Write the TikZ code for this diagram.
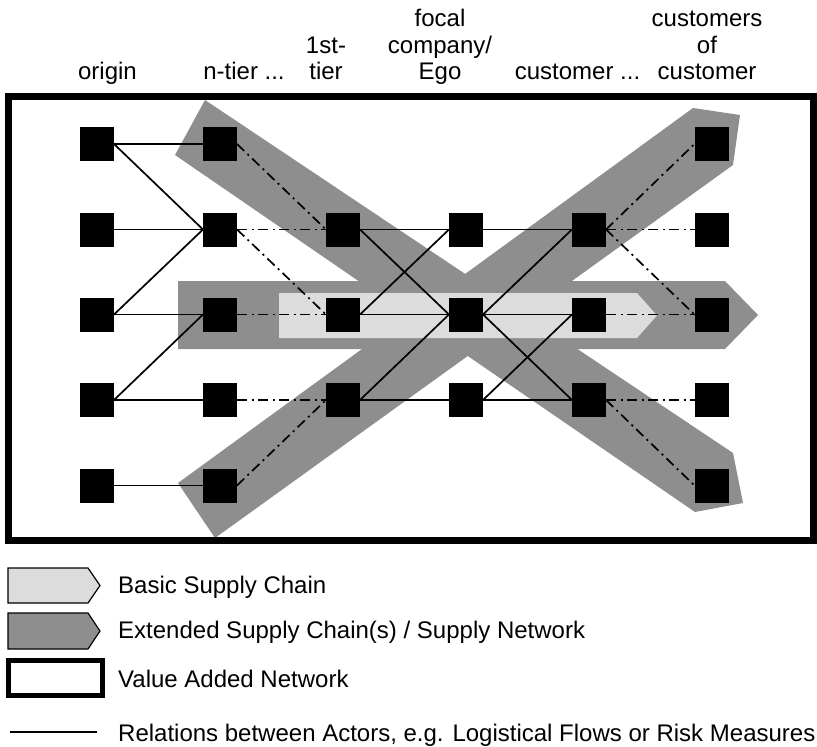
\documentclass[tikz,border=0pt]{standalone}
\usepackage{fontspec}
\setmainfont{Liberation Sans}
\definecolor{extgray}{HTML}{8E8E8E}
\definecolor{basgray}{HTML}{DCDCDC}
\begin{document}
\begin{tikzpicture}[x=1pt,y=-1pt,
  actor/.style={fill=black,draw=none,minimum size=34pt,inner sep=0pt,outer sep=0pt},
  rel/.style={line width=1.7pt,black},
  rdd/.style={line width=1.7pt,black,dash pattern=on 10pt off 4.5pt on 2pt off 4.5pt},
  lbl/.style={font=\fontsize{24}{26.5}\selectfont,inner sep=0pt,align=center,anchor=south,text depth=0pt},
  leg/.style={font=\fontsize{24}{26.5}\selectfont,inner sep=0pt,anchor=base west},
  ext/.style={fill=extgray,draw=none},
  bas/.style={fill=basgray,draw=none}]
\useasboundingbox (0,0) rectangle (817,747);

% extended supply chains (dark grey bands)
\path[ext] (205,100) -- (733,453) -- (743,503) -- (695,512) -- (175,155) -- cycle;
\path[ext] (178,483) -- (693,108) -- (740,115) -- (733,165) -- (215,538) -- cycle;
\path[ext] (178,281) -- (725,281) -- (758,315) -- (725,349) -- (178,349) -- cycle;
% basic supply chain
\path[bas] (279,293) -- (637,293) -- (657,315.5) -- (637,338) -- (279,338) -- cycle;

% actors
\node[actor] (o1) at (97,144) {};
\node[actor] (o2) at (97,229.5) {};
\node[actor] (o3) at (97,314.5) {};
\node[actor] (o4) at (97,400) {};
\node[actor] (o5) at (97,485.5) {};
\node[actor] (n1) at (220,144) {};
\node[actor] (n2) at (220,229.5) {};
\node[actor] (n3) at (220,314.5) {};
\node[actor] (n4) at (220,400) {};
\node[actor] (n5) at (220,485.5) {};
\node[actor] (t2) at (343,229.5) {};
\node[actor] (t3) at (343,314.5) {};
\node[actor] (t4) at (343,400) {};
\node[actor] (f2) at (466,229.5) {};
\node[actor] (f3) at (466,314.5) {};
\node[actor] (f4) at (466,400) {};
\node[actor] (c2) at (589,229.5) {};
\node[actor] (c3) at (589,314.5) {};
\node[actor] (c4) at (589,400) {};
\node[actor] (d1) at (711.5,144) {};
\node[actor] (d2) at (711.5,229.5) {};
\node[actor] (d3) at (711.5,314.5) {};
\node[actor] (d4) at (711.5,400) {};
\node[actor] (d5) at (711.5,485.5) {};

% relations
\foreach \a/\b in {o1/n1,o1/n2,o2/n2,o3/n2,o3/n3,o4/n3,o4/n4,o5/n5,
                   t2/f2,t2/f3,t3/f2,t3/f3,t4/f3,t4/f4,
                   f2/c2,f3/c2,f3/c3,f3/c4,f4/c3,f4/c4}
  \draw[rel] (\a.east) -- (\b.west);
\foreach \a/\b in {n1/t2,n2/t2,n2/t3,n3/t3,n4/t4,n5/t4,
                   c2/d1,c2/d2,c2/d3,c3/d3,c4/d4,c4/d5}
  \draw[rdd] (\a.east) -- (\b.west);

% value added network
\draw[line width=6.5pt] (8.5,96.5) rectangle (813.5,540.5);

% column labels
\node[lbl] (l1) at (107.5,80) {origin};
\node[lbl] (l2) at (244,80) {n-tier ...};
\node[lbl] (l3) at (326,80) {1st-\\tier};
\node[lbl] (l4) at (440,80) {focal\\company/\\Ego};
\node[lbl] (l5) at (577.5,80) {customer ...};
\node[lbl] (l6) at (707,80) {customers\\of\\customer};

% legend
\filldraw[fill=basgray,draw=black,line width=1.2pt] (8,568) -- (88,568) -- (100,585.5) -- (88,603) -- (8,603) -- cycle;
\filldraw[fill=extgray,draw=black,line width=1.2pt] (8,613) -- (88,613) -- (100,631) -- (88,649) -- (8,649) -- cycle;
\draw[line width=5pt] (8.5,660.5) rectangle (102.5,695.5);
\coordinate (r1) at (10,732);
\coordinate (r2) at (97,732);
\draw[rel] (r1) -- (r2);
\node[leg] (g1) at (118,593) {Basic Supply Chain};
\node[leg] (g2) at (118,638) {Extended Supply Chain(s) / Supply Network};
\node[leg] (g3) at (118,687) {Value Added Network};
\node[leg] (g4) at (118,741) {Relations between Actors, e.g. Logistical Flows or Risk Measures};
\end{tikzpicture}
\end{document}
